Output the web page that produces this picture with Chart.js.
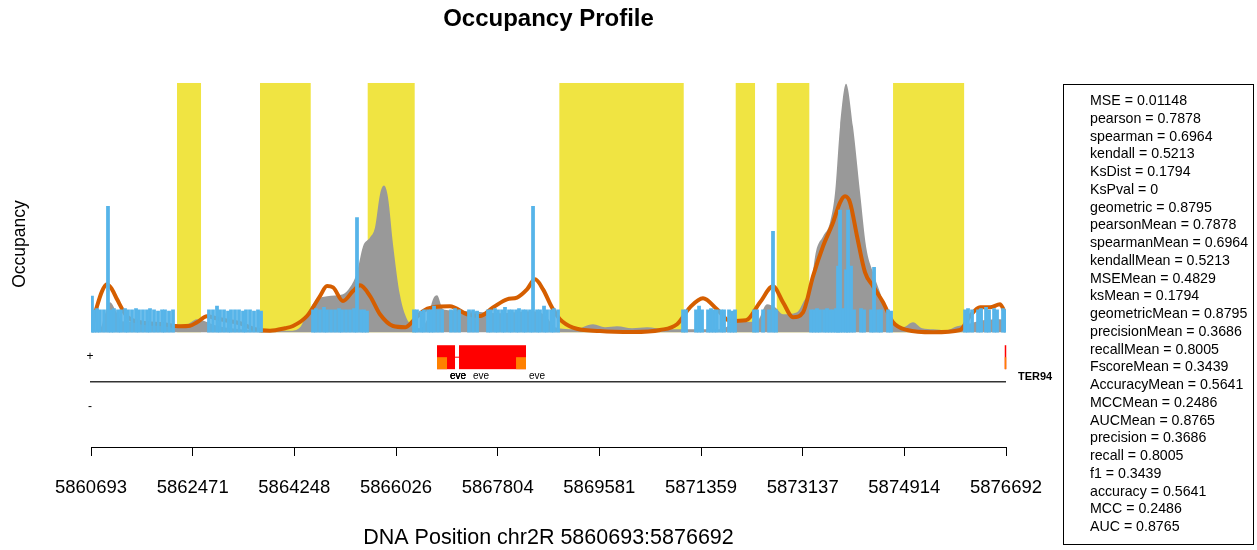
<!DOCTYPE html>
<html>
<head>
<meta charset="utf-8">
<title>Occupancy Profile</title>
<script src="https://cdn.jsdelivr.net/npm/chart.js@4.4.1/dist/chart.umd.min.js"></script>
<style>
  html, body { margin: 0; padding: 0; background: #fff; }
  #wrap { position: relative; width: 1257px; height: 550px; }
  #stats {
    position: absolute; left: 1063px; top: 84px; width: 191px; height: 461px;
    box-sizing: border-box; border: 1px solid #000; padding: 7px 0 0 26px;
    font: 14.2px/17.75px "Liberation Sans", Arial, sans-serif; color: #000; white-space: nowrap;
  }
</style>
</head>
<body>
<div id="wrap">
  <canvas id="occupancyChart" width="1257" height="550"></canvas>
  <div id="stats"></div>
</div>
<script>
// region shown
const chromName   = 'chr2R';
const regionStart = 5860693;
const regionEnd   = 5876692;
const xTicks = [5860693, 5862471, 5864248, 5866026, 5867804, 5869581, 5871359, 5873137, 5874914, 5876692];

// yellow bands (called peaks)
const peakStarts = [5862197, 5863648, 5865531, 5868882, 5871966, 5872683, 5874717];
const peakEnds   = [5862617, 5864535, 5866353, 5871057, 5872304, 5873253, 5875964];

// grey area: observed occupancy
const observedPos = [5860693, 5860850, 5860938, 5861025, 5861130, 5861235, 5861725, 5862162, 5862337, 5862547,
  5862686, 5862861, 5863298, 5863648, 5864173, 5864348, 5864470, 5864610, 5864820, 5865099,
  5865222, 5865344, 5865449, 5865572, 5865659, 5865746, 5865816, 5865886, 5865974, 5866096,
  5866219, 5866323, 5866446, 5866586, 5866673, 5866743, 5866848, 5866970, 5867320, 5867845,
  5868369, 5868632, 5868807, 5869156, 5869471, 5869681, 5869891, 5870153, 5870415, 5870730,
  5871167, 5871692, 5871989, 5872339, 5872514, 5872653, 5872793, 5873038, 5873178, 5873265,
  5873370, 5873493, 5873615, 5873703, 5873790, 5873895, 5874017, 5874140, 5874245, 5874367,
  5874489, 5874594, 5874717, 5874892, 5875066, 5875224, 5875416, 5875644, 5875836, 5876011,
  5876291, 5876588, 5876692];
const observedOcc = [0.004, 0.012, 0.072, 0.12, 0.084, 0.044, 0.04, 0.032, 0.028, 0.052,
  0.044, 0.028, 0.012, 0.008, 0.006, 0.02, 0.072, 0.124, 0.144, 0.152,
  0.18, 0.24, 0.344, 0.38, 0.42, 0.552, 0.588, 0.54, 0.352, 0.148,
  0.052, 0.028, 0.016, 0.06, 0.132, 0.148, 0.092, 0.088, 0.084, 0.076,
  0.084, 0.068, 0.02, 0.012, 0.032, 0.02, 0.024, 0.016, 0.02, 0.012,
  0.012, 0.012, 0.04, 0.044, 0.112, 0.1, 0.072, 0.08, 0.132, 0.16,
  0.324, 0.384, 0.44, 0.56, 0.824, 0.996, 0.824, 0.56, 0.344, 0.24,
  0.16, 0.08, 0.032, 0.02, 0.04, 0.016, 0.012, 0.008, 0.024, 0.032,
  0.048, 0.052, 0.044];

// orange line: predicted occupancy
const predictedPos = [5860693, 5860798, 5860885, 5860973, 5861060, 5861148, 5861322, 5861550, 5861952, 5862249,
  5862424, 5862547, 5862721, 5862949, 5863298, 5863561, 5863823, 5864085, 5864225, 5864470,
  5864697, 5864820, 5864925, 5865099, 5865274, 5865397, 5865572, 5865746, 5865974, 5866184,
  5866323, 5866498, 5866673, 5866970, 5867268, 5867495, 5867722, 5867967, 5868142, 5868317,
  5868457, 5868597, 5868754, 5868894, 5869121, 5869593, 5870170, 5870643, 5870940, 5871167,
  5871394, 5871639, 5871867, 5872146, 5872391, 5872618, 5872793, 5872968, 5873143, 5873318,
  5873493, 5873668, 5873790, 5873877, 5873965, 5874087, 5874227, 5874367, 5874542, 5874717,
  5874962, 5875416, 5875888, 5876063, 5876238, 5876413, 5876588, 5876692];
const predictedOcc = [0.012, 0.104, 0.164, 0.192, 0.172, 0.132, 0.064, 0.04, 0.032, 0.024,
  0.026, 0.04, 0.064, 0.052, 0.036, 0.012, 0.006, 0.016, 0.025, 0.065,
  0.145, 0.185, 0.18, 0.125, 0.165, 0.188, 0.145, 0.072, 0.025, 0.02,
  0.045, 0.085, 0.1, 0.104, 0.072, 0.065, 0.099, 0.132, 0.139, 0.172,
  0.212, 0.172, 0.099, 0.052, 0.019, 0.005, 0.001, 0.009, 0.032, 0.1,
  0.136, 0.092, 0.045, 0.048, 0.12, 0.184, 0.12, 0.06, 0.08, 0.225,
  0.345, 0.44, 0.52, 0.545, 0.52, 0.385, 0.24, 0.185, 0.12, 0.04,
  0.009, 0, 0.009, 0.065, 0.1, 0.1, 0.112, 0.068];

// blue bars: read signal
const readPos = [
  5860710, 5860745, 5860798, 5860850, 5860920, 5860990, 5861043, 5861095, 5861165, 5861218,
  5861288, 5861340, 5861410, 5861480, 5861532, 5861602, 5861672, 5861725, 5861795, 5861865,
  5861935, 5861987, 5862057, 5862127,
  5862756, 5862826, 5862896, 5862949, 5863019, 5863089, 5863141, 5863211, 5863281, 5863351,
  5863403, 5863473, 5863543, 5863613, 5863666,
  5864575, 5864627, 5864697, 5864767, 5864820, 5864890, 5864960, 5865030, 5865082, 5865152,
  5865222, 5865292, 5865344, 5865414, 5865467, 5865519,
  5866341, 5866393, 5866463, 5866516, 5866586, 5866638, 5866691, 5866761, 5866831, 5866988,
  5867058, 5867128, 5867303, 5867373, 5867443, 5867635, 5867687, 5867757, 5867810, 5867880,
  5867932, 5868002, 5868055, 5868125, 5868177, 5868247, 5868299, 5868369, 5868422, 5868492,
  5868544, 5868614, 5868667, 5868737, 5868789, 5868859,
  5871045, 5871097, 5871272, 5871325, 5871377, 5871482, 5871534, 5871587, 5871639, 5871709,
  5871762, 5871849, 5871902, 5871954, 5872286, 5872339, 5872444, 5872549, 5872618, 5872671,
  5873283, 5873335, 5873388, 5873440, 5873510, 5873563, 5873615, 5873668, 5873720, 5873755,
  5873790, 5873842, 5873895, 5873930, 5873982, 5874035, 5874157, 5874210, 5874332, 5874385,
  5874455, 5874507, 5874629, 5874682,
  5875976, 5876028, 5876098, 5876203, 5876256, 5876343, 5876395, 5876483, 5876535, 5876640,
  5876686];
const readOcc = [
  0.145, 0.09, 0.095, 0.09, 0.09, 0.505, 0.09, 0.095, 0.09, 0.09,
  0.095, 0.09, 0.09, 0.095, 0.09, 0.09, 0.09, 0.095, 0.09, 0.085,
  0.09, 0.09, 0.085, 0.09,
  0.09, 0.09, 0.105, 0.09, 0.09, 0.085, 0.09, 0.09, 0.09, 0.085,
  0.09, 0.09, 0.085, 0.09, 0.085,
  0.09, 0.095, 0.09, 0.1, 0.09, 0.09, 0.09, 0.095, 0.09, 0.09,
  0.09, 0.095, 0.46, 0.09, 0.09, 0.085,
  0.09, 0.09, 0.085, 0.09, 0.09, 0.09, 0.105, 0.09, 0.09, 0.09,
  0.095, 0.09, 0.09, 0.09, 0.085, 0.09, 0.09, 0.095, 0.09, 0.09,
  0.1, 0.09, 0.09, 0.09, 0.095, 0.09, 0.09, 0.09, 0.505, 0.09,
  0.09, 0.105, 0.09, 0.09, 0.095, 0.09,
  0.09, 0.09, 0.09, 0.105, 0.09, 0.09, 0.095, 0.09, 0.09, 0.09,
  0.09, 0.09, 0.085, 0.09, 0.09, 0.09, 0.09, 0.09, 0.405, 0.09,
  0.09, 0.09, 0.095, 0.09, 0.09, 0.095, 0.09, 0.09, 0.095, 0.265,
  0.49, 0.095, 0.25, 0.49, 0.265, 0.09, 0.095, 0.09, 0.09, 0.26,
  0.09, 0.09, 0.09, 0.085,
  0.09, 0.095, 0.09, 0.09, 0.095, 0.1, 0.09, 0.095, 0.09, 0.095,
  0.09];

// gene track
const exonStarts   = [5866743, 5867128, 5876670];
const exonEnds     = [5867058, 5868299, 5876692];
const utrStarts    = [5866743, 5868125, 5876670];
const utrEnds      = [5866918, 5868299, 5876692];
const intronStarts = [5867058];
const intronEnds   = [5867128];
const geneLabels   = ['eve', 'eve', 'eve', 'eve', 'eve'];
const geneLabelPos = [5867110, 5867110, 5867110, 5867513, 5868492];
const offLabel     = 'TER94';

// fit statistics box
const statNames  = ['MSE', 'pearson', 'spearman', 'kendall', 'KsDist', 'KsPval', 'geometric',
  'pearsonMean', 'spearmanMean', 'kendallMean', 'MSEMean', 'ksMean', 'geometricMean',
  'precisionMean', 'recallMean', 'FscoreMean', 'AccuracyMean', 'MCCMean', 'AUCMean',
  'precision', 'recall', 'f1', 'accuracy', 'MCC', 'AUC'];
const statValues = ['0.01148', '0.7878', '0.6964', '0.5213', '0.1794', '0', '0.8795',
  '0.7878', '0.6964', '0.5213', '0.4829', '0.1794', '0.8795',
  '0.3686', '0.8005', '0.3439', '0.5641', '0.2486', '0.8765',
  '0.3686', '0.8005', '0.3439', '0.5641', '0.2486', '0.8765'];

// track levels in occupancy units (below the zero line)
const TRACK = { top: -0.052, mid: -0.1, bottom: -0.148, label: -0.178, line: -0.198, plus: -0.099, minus: -0.3 };
const FONT = '"Liberation Sans", Arial, sans-serif';

document.getElementById('stats').innerHTML =
  statNames.map((n, i) => `<div>${n} = ${statValues[i]}</div>`).join('');

const shadeData = [];
peakStarts.forEach((s, i) => {
  shadeData.push({ x: s, y: 0 }, { x: s, y: 1 }, { x: peakEnds[i], y: 1 }, { x: peakEnds[i], y: 0 });
});

const trackPlugin = {
  id: 'geneTrack',
  afterDraw(chart) {
    const { ctx, chartArea } = chart;
    const xs = chart.scales.x, ys = chart.scales.y;
    const px = v => xs.getPixelForValue(v);
    const py = v => ys.getPixelForValue(v);
    ctx.save();

    // strand line
    ctx.strokeStyle = '#333';
    ctx.lineWidth = 1.5;
    ctx.beginPath();
    ctx.moveTo(px(regionStart) - 1, py(TRACK.line));
    ctx.lineTo(px(regionEnd), py(TRACK.line));
    ctx.stroke();

    // introns
    ctx.strokeStyle = '#FF0000';
    ctx.lineWidth = 1;
    intronStarts.forEach((s, i) => {
      ctx.beginPath();
      ctx.moveTo(px(s), py(TRACK.mid));
      ctx.lineTo(px(intronEnds[i]), py(TRACK.mid));
      ctx.stroke();
    });

    // exons + UTRs
    ctx.fillStyle = '#FF0000';
    exonStarts.forEach((s, i) => {
      const x0 = px(s), x1 = px(exonEnds[i]);
      ctx.fillRect(x0, py(TRACK.top), Math.max(x1 - x0, 1.5), py(TRACK.bottom) - py(TRACK.top));
    });
    ctx.fillStyle = '#FF8000';
    utrStarts.forEach((s, i) => {
      const x0 = px(s), x1 = px(utrEnds[i]);
      ctx.fillRect(x0, py(TRACK.mid), Math.max(x1 - x0, 1.5), py(TRACK.bottom) - py(TRACK.mid));
    });

    // gene names
    ctx.fillStyle = '#000';
    ctx.textAlign = 'center';
    ctx.textBaseline = 'middle';
    ctx.font = '10px ' + FONT;
    geneLabels.forEach((t, i) => ctx.fillText(t, px(geneLabelPos[i]), py(TRACK.label)));
    ctx.textAlign = 'left';
    ctx.font = 'bold 11px ' + FONT;
    ctx.fillText(offLabel, chartArea.right + 12, py(TRACK.label));

    // strand marks
    ctx.textAlign = 'center';
    ctx.font = '12px ' + FONT;
    ctx.fillText('+', chartArea.left - 1, py(TRACK.plus));
    ctx.fillText('-', chartArea.left - 1, py(TRACK.minus));

    // axis titles
    ctx.font = '21.5px ' + FONT;
    ctx.fillText(`DNA Position ${chromName} ${regionStart}:${regionEnd}`, (chartArea.left + chartArea.right) / 2, 538);
    ctx.translate(20, 244);
    ctx.rotate(-Math.PI / 2);
    ctx.font = '17.5px ' + FONT;
    ctx.fillText('Occupancy', 0, 0);
    ctx.restore();
  }
};

Chart.defaults.font.family = FONT;

new Chart(document.getElementById('occupancyChart'), {
  type: 'line',
  data: {
    datasets: [
      {
        type: 'bar',
        label: 'reads',
        data: readPos.map((p, i) => ({ x: p, y: readOcc[i] })),
        backgroundColor: '#56B4E9',
        borderWidth: 0,
        barThickness: 3.1,
        order: 0,
      },
      {
        label: 'predicted',
        data: predictedPos.map((p, i) => ({ x: p, y: predictedOcc[i] })),
        borderColor: '#D55E00',
        borderWidth: 4,
        pointRadius: 0,
        cubicInterpolationMode: 'monotone',
        fill: false,
        order: 1,
      },
      {
        label: 'observed',
        data: observedPos.map((p, i) => ({ x: p, y: observedOcc[i] })),
        borderColor: 'rgba(0,0,0,0)',
        backgroundColor: '#999999',
        borderWidth: 1,
        pointRadius: 0,
        cubicInterpolationMode: 'monotone',
        fill: 'origin',
        order: 2,
      },
      {
        label: 'peaks',
        data: shadeData,
        borderColor: 'rgba(0,0,0,0)',
        backgroundColor: '#F0E442',
        borderWidth: 1,
        pointRadius: 0,
        tension: 0,
        fill: 'origin',
        order: 3,
      },
    ],
  },
  options: {
    responsive: false,
    animation: false,
    layout: { padding: { left: 91, right: 251, top: 0, bottom: 29.8 } },
    plugins: {
      legend: { display: false },
      tooltip: { enabled: false },
      title: {
        display: true,
        text: 'Occupancy Profile',
        color: '#000',
        font: { size: 24, weight: 'bold' },
        padding: { top: 5, bottom: 49 },
      },
    },
    scales: {
      x: {
        type: 'linear',
        min: regionStart,
        max: regionEnd,
        offset: false,
        afterBuildTicks: scale => { scale.ticks = xTicks.map(v => ({ value: v })); },
        ticks: {
          color: '#000',
          font: { size: 18.5 },
          padding: 21,
          maxRotation: 0,
          autoSkip: false,
          callback: v => String(v),
        },
        grid: { display: true, offset: false, drawOnChartArea: false, drawTicks: true, tickLength: 9, color: '#000', lineWidth: 1 },
        border: { display: true, color: '#000', width: 1 },
      },
      y: { type: 'linear', display: false, min: -0.46, max: 1.0 },
    },
  },
  plugins: [trackPlugin],
});
</script>
</body>
</html>
